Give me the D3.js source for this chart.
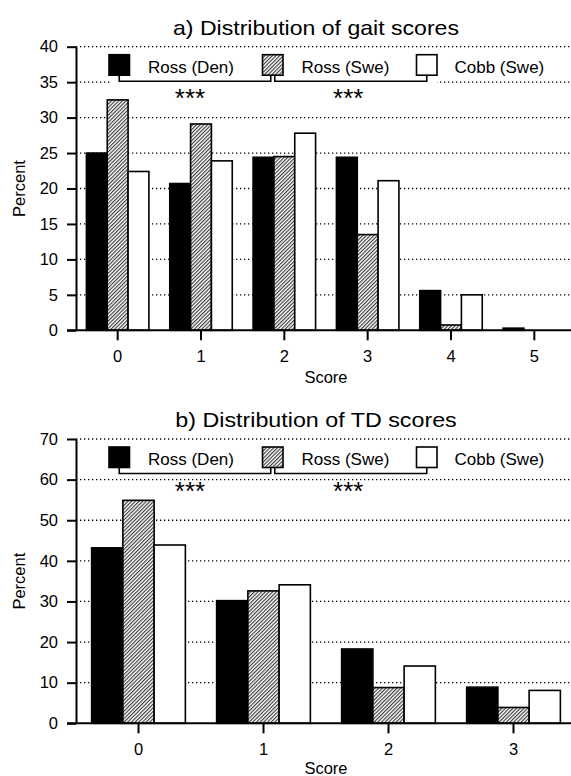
<!DOCTYPE html>
<html>
<head>
<meta charset="utf-8">
<script src="https://cdnjs.cloudflare.com/ajax/libs/d3/7.8.5/d3.min.js"></script>
<style>
body { margin: 0; background: #fff; }
svg { display: block; font-family: "Liberation Sans", Arial, sans-serif; }
</style>
</head>
<body>
<svg id="chart" width="571" height="776"></svg>
<script>
var seriesNames = ["Ross (Den)", "Ross (Swe)", "Cobb (Swe)"];

// a) gait scores, percent per breed
var gaitScores = ["0", "1", "2", "3", "4", "5"];
var gaitRossDen = [25.0, 20.7, 24.4, 24.4, 5.6, 0.3];
var gaitRossSwe = [32.5, 29.1, 24.5, 13.5, 0.75, 0];
var gaitCobbSwe = [22.4, 23.9, 27.8, 21.1, 5.0, 0];
var gaitTicks = [0, 5, 10, 15, 20, 25, 30, 35, 40];

// b) TD scores
var tdScores = ["0", "1", "2", "3"];
var tdRossDen = [43.2, 30.2, 18.3, 8.9];
var tdRossSwe = [54.9, 32.6, 8.8, 3.9];
var tdCobbSwe = [43.9, 34.1, 14.1, 8.1];
var tdTicks = [0, 10, 20, 30, 40, 50, 60, 70];

var signifLabels = ["***", "***"];

;(function(d3) {
	"use strict";

	var W = 571;
	var svg = d3.select("#chart");

	var pattern = svg.append("defs").append("pattern")
		.attr("id", "hatch")
		.attr("patternUnits", "userSpaceOnUse")
		.attr("width", 2.6).attr("height", 2.6)
		.attr("patternTransform", "rotate(45)");
	pattern.append("rect").attr("width", 2.6).attr("height", 2.6).attr("fill", "#fff");
	pattern.append("line").attr("x1", 0.6).attr("x2", 0.6).attr("y1", 0).attr("y2", 2.6)
		.attr("stroke", "#333").attr("stroke-width", 1.1);

	var fills = ["#000", "url(#hatch)", "#fff"];

	function drawPanel(p) {
		var g = svg.append("g").attr("class", "panel");

		var x0 = d3.scaleBand().domain(p.scores).range([p.left, p.right])
			.paddingInner(0.25).paddingOuter(0.125);
		var x1 = d3.scaleBand().domain(seriesNames).range([0, x0.bandwidth()]);
		var y = d3.scaleLinear().domain([0, d3.max(p.ticks)]).range([p.bottom, p.top]);

		g.append("text")
			.attr("x", 316).attr("y", p.titleY)
			.attr("text-anchor", "middle")
			.attr("font-size", 21)
			.attr("textLength", p.titleWidth)
			.attr("lengthAdjust", "spacingAndGlyphs")
			.text(p.title);

		// dotted gridlines
		g.append("g").selectAll("line")
			.data(p.ticks.filter(function(t) { return t > 0; }))
			.join("line")
			.attr("x1", p.left).attr("x2", W)
			.attr("y1", y).attr("y2", y)
			.attr("stroke", "#000").attr("stroke-width", 1.3)
			.attr("stroke-dasharray", "1.3,2.7");

		// legend with significance brackets
		var sqTop = p.top + 8, sq = 20.5, sqBottom = sqTop + sq, brY = sqBottom + 6;
		var sqX = [109, 262.5, 416.5], textX = [148, 301.5, 454.5];
		var centers = sqX.map(function(v) { return v + sq / 2; });

		var legend = g.append("g").attr("class", "legend");
		legend.append("rect")
			.attr("x", 110).attr("y", sqTop - 3)
			.attr("width", 327).attr("height", brY + 3 - (sqTop - 3))
			.attr("fill", "#fff");
		legend.selectAll(".key").data(seriesNames).join("rect")
			.attr("class", "key")
			.attr("x", function(d, i) { return sqX[i]; })
			.attr("y", sqTop).attr("width", sq).attr("height", sq)
			.attr("fill", function(d, i) { return fills[i]; })
			.attr("stroke", "#000").attr("stroke-width", 1.6);
		legend.selectAll(".lbl").data(seriesNames).join("text")
			.attr("class", "lbl")
			.attr("x", function(d, i) { return textX[i]; })
			.attr("y", sqBottom - 2.5)
			.attr("font-size", 17)
			.text(function(d) { return d; });

		var brackets = [[centers[0], centers[1] - 2], [centers[1] + 2, centers[2]]];
		legend.selectAll(".bracket").data(brackets).join("path")
			.attr("class", "bracket")
			.attr("d", function(d) {
				return "M" + d[0] + "," + sqBottom + "V" + brY + "H" + d[1] + "V" + sqBottom;
			})
			.attr("fill", "none").attr("stroke", "#000").attr("stroke-width", 1.6);
		legend.selectAll(".stars").data(brackets).join("text")
			.attr("class", "stars")
			.attr("x", function(d, i) { return (d[0] + d[1]) / 2 - (i ? 2.5 : 5); })
			.attr("y", brY + 26)
			.attr("text-anchor", "middle")
			.attr("font-size", 26)
			.text(function(d, i) { return signifLabels[i]; });

		// bars
		var rows = p.scores.map(function(s, i) {
			return { score: s, values: p.values.map(function(v, j) { return { name: seriesNames[j], value: v[i] }; }) };
		});
		g.append("g").selectAll("g").data(rows).join("g")
			.attr("transform", function(d) { return "translate(" + x0(d.score) + ",0)"; })
			.selectAll("rect")
			.data(function(d) { return d.values.filter(function(v) { return v.value > 0; }); })
			.join("rect")
			.attr("x", function(d) { return x1(d.name); })
			.attr("y", function(d) { return y(d.value); })
			.attr("width", x1.bandwidth())
			.attr("height", function(d) { return y(0) - y(d.value); })
			.attr("fill", function(d) { return fills[seriesNames.indexOf(d.name)]; })
			.attr("stroke", "#000").attr("stroke-width", 1.6);

		// axes
		var yAxis = g.append("g")
			.attr("transform", "translate(" + p.left + ",0)")
			.call(d3.axisLeft(y).tickValues(p.ticks).tickSize(9).tickSizeOuter(0).tickPadding(9));
		var xAxis = g.append("g")
			.attr("transform", "translate(0," + p.bottom + ")")
			.call(d3.axisBottom(x0).tickSize(10).tickSizeOuter(0).tickPadding(10));
		xAxis.select(".domain").remove();
		xAxis.append("line").attr("x1", p.left - 9).attr("x2", W)
			.attr("stroke", "#000").attr("stroke-width", 2);

		[xAxis, yAxis].forEach(function(a) {
			a.selectAll("path, line").attr("stroke", "#000").attr("stroke-width", 2);
			a.selectAll("text").attr("font-size", 16.5).attr("fill", "#000")
				.attr("font-family", "Liberation Sans, Arial, sans-serif");
		});

		g.append("text")
			.attr("x", (p.left + 556) / 2 + 10).attr("y", p.bottom + p.scoreDy)
			.attr("text-anchor", "middle").attr("font-size", 16.5)
			.text("Score");
		g.append("text")
			.attr("transform", "translate(25," + (p.top + p.bottom) / 2 + ") rotate(-90)")
			.attr("text-anchor", "middle").attr("font-size", 16.5)
			.text("Percent");
	}

	drawPanel({
		title: "a) Distribution of gait scores", titleY: 35, titleWidth: 286,
		scores: gaitScores, values: [gaitRossDen, gaitRossSwe, gaitCobbSwe], ticks: gaitTicks,
		left: 76, right: 576, top: 46.7, bottom: 330.3, scoreDy: 52.7
	});
	drawPanel({
		title: "b) Distribution of TD scores", titleY: 426.7, titleWidth: 281.5,
		scores: tdScores, values: [tdRossDen, tdRossSwe, tdCobbSwe], ticks: tdTicks,
		left: 76, right: 576, top: 439, bottom: 723.3, scoreDy: 50.5
	});
})(d3);
</script>
</body>
</html>
